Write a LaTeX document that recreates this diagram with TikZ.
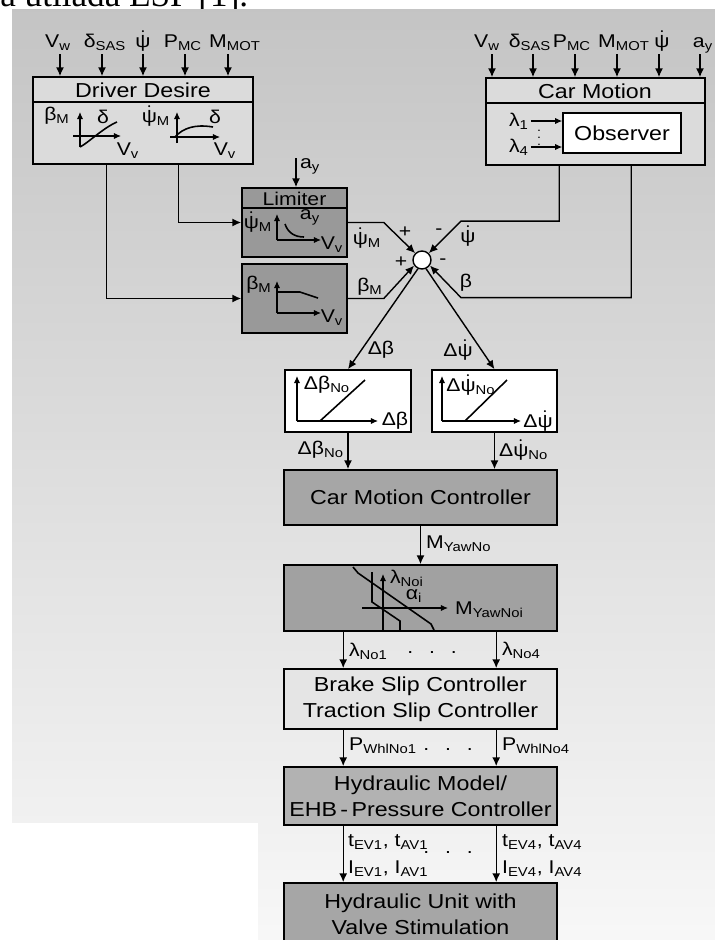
\documentclass[tikz,border=0pt]{standalone}
\usepackage{amsmath}
\usepackage{fontspec}
\setmainfont[FakeStretch=1.15]{Liberation Sans}
\newfontfamily\capfont{Liberation Serif}
\usetikzlibrary{arrows.meta,positioning,fit,calc}
\newcommand\sbs[1]{\textsubscript{#1}}
\newcommand\psd{\ensuremath{\dot{\text{ψ}}}}

\begin{document}
\begin{tikzpicture}[
  x=0.02cm, y=-0.02cm,
  font=\fontsize{10.5}{12}\selectfont,
  box/.style={draw, line width=0.9pt, inner sep=0pt, fill=#1},
  txt/.style={align=center, font=\fontsize{11.5}{15}\selectfont},
  lbl/.style={inner sep=1pt},
  inp/.style={inner sep=1pt, anchor=south, text depth=2.5pt},
  a/.style={-{Latex[length=5pt,width=4.5pt]}, line width=0.8pt},
  ax/.style={-{Latex[length=4pt,width=3.5pt]}, line width=0.6pt},
  crv/.style={line width=0.9pt}
]
\useasboundingbox (0,0) rectangle (715,940);
% page around the figure
\begin{scope}
  \clip (0,0) rectangle (715,9);
  \node[anchor=base west, inner sep=0pt, font=\capfont\fontsize{20}{22}\selectfont] (cap) at (0,6) {a utilada ESP [1].};
\end{scope}
\shade[top color=black!23, bottom color=black!3] (12,9) rectangle (715,940);
\fill[white] (0,823) rectangle (258,940);

% driver desire
\node[box=black!14, fit={(33,77) (253,164)}] (dd) {};
\draw[line width=0.9pt] ($(dd.north west)+(0,26)$) -- ($(dd.north east)+(0,26)$);
\node[txt] (dd-t) at (143,90) {Driver Desire};
\foreach \x/\lx/\t [count=\i] in {60/58/V\sbs{w}, 102/105/δ\sbs{SAS}, 143/143/\psd, 185/183/P\sbs{MC}, 228/235/M\sbs{MOT}} {
  \coordinate (dd-a\i) at (\x,54);
  \node[inp] (dd-in\i) at (\lx,54) {\t};
  \draw[a] (dd-a\i) -- (dd-a\i |- dd.north);
}
\draw[ax] (80,147) -- (80,112);
\draw[ax] (73,136) -- (121,136);
\draw[crv] (80,147) .. controls (88,143) and (103,128) .. (117,122);
\node (dd-b) at (57,116) {β\sbs{M}};
\node (dd-d1) at (103,117) {δ};
\node (dd-v1) at (128,151) {V\sbs{v}};
\draw[ax] (177,143) -- (177,112);
\draw[ax] (170,137) -- (220,137);
\draw[crv] (175,137) .. controls (183,128) and (195,124) .. (213,127);
\node (dd-p) at (156,116) {\psd\sbs{M}};
\node (dd-d2) at (215,117) {δ};
\node (dd-v2) at (225,151) {V\sbs{v}};

% car motion
\node[box=black!14, fit={(486,78) (705,165)}] (cm) {};
\draw[line width=0.9pt] ($(cm.north west)+(0,26)$) -- ($(cm.north east)+(0,26)$);
\node[txt] (cm-t) at (595,91) {Car Motion};
\foreach \x/\lx/\t [count=\i] in {492/487/V\sbs{w}, 533/530/δ\sbs{SAS}, 575/572/P\sbs{MC}, 617/624/M\sbs{MOT}, 659/662/\psd, 700/703/a\sbs{y}} {
  \coordinate (cm-a\i) at (\x,54);
  \node[inp] (cm-in\i) at (\lx,54) {\t};
  \draw[a] (cm-a\i) -- (cm-a\i |- cm.north);
}
\node[box=white, fit={(563,113) (681,153)}] (obs) {};
\node[txt] (obs-t) at (obs) {Observer};
\node[lbl] (cm-l1) at (519,121) {λ\sbs{1}};
\node[lbl] (cm-l4) at (519,147) {λ\sbs{4}};
\draw[ax] (cm-l1.east) -- (cm-l1.east -| obs.west);
\draw[ax] (cm-l4.east) -- (cm-l4.east -| obs.west);
\node[font=\fontsize{7}{8}\selectfont] (cm-vd) at (539,133) {$\vdots$};

% limiter and beta
\node[box=black!40, fit={(242,188) (347,257)}] (lim) {};
\draw[line width=0.9pt] ($(lim.north west)+(0,21)$) -- ($(lim.north east)+(0,21)$);
\node (lim-t) at (294.5,198.5) {Limiter};
\coordinate (lim-in) at (296,158);
\draw[a] (lim-in) -- (lim-in |- lim.north);
\node[lbl, anchor=west] (lim-ay) at (298,166) {a\sbs{y}};
\draw[ax] (277,240) -- (277,214);
\draw[ax] (277,240) -- (321,240);
\draw[crv] (285,224) .. controls (288,233) and (295,237) .. (304,237);
\node (lim-p) at (258,222) {\psd\sbs{M}};
\node (lim-a) at (310,217) {a\sbs{y}};
\node (lim-v) at (332,245) {V\sbs{v}};

\node[box=black!40, fit={(242,264) (347,333)}] (bm) {};
\draw[ax] (277,313) -- (277,281);
\draw[ax] (277,313) -- (321,313);
\draw[crv] (277,292) -- (300,292) -- (318,298);
\node (bm-b) at (259,285) {β\sbs{M}};
\node (bm-v) at (332,318) {V\sbs{v}};

\coordinate (dd-o1) at ($(dd.south west)+(74,0)$);
\coordinate (dd-o2) at ($(dd.south west)+(146,0)$);
\draw[a] (dd-o2) |- (lim.west);
\draw[a] (dd-o1) |- (bm.west);

% summing point
\node[circle, draw, fill=white, line width=0.8pt, minimum size=0.36cm, inner sep=0pt] (sum) at (422,260) {};
\coordinate (cm-o1) at ($(cm.south west)+(74,0)$);
\coordinate (cm-o2) at ($(cm.south west)+(146,0)$);
\draw[a] (lim.east) -- ++(36,0) -- (sum.135);
\draw[a] (bm.east) -- ++(36,0) -- (sum.-145);
\draw[a] (cm-o1) |- ($(sum.45)+(32,-32)$) -- (sum.45);
\draw[a] (cm-o2) |- ($(sum.-35)+(31,32)$) -- (sum.-35);
\node (s-pm) at (367,238) {\psd\sbs{M}};
\node (s-p1) at (405,232) {+};
\node (s-bm) at (370,287) {β\sbs{M}};
\node (s-p2) at (401,262) {+};
\node (s-ps) at (468,236) {\psd};
\node (s-m1) at (439,232) {-};
\node (s-b) at (466,283) {β};
\node (s-m2) at (443,262) {-};

% normalisation
\node[box=white, fit={(285,370) (411,432)}] (db) {};
\node[box=white, fit={(432,370) (557,432)}] (dp) {};
\draw[a] (sum.-115) -- (db.north);
\draw[a] (sum.-65) -- (dp.north);
\node (s-db) at (381,350) {Δβ};
\node (s-dp) at (458,350) {Δ\psd};
\draw[ax] (297,421) -- (297,376);
\draw[ax] (297,421) -- (378,421);
\draw[crv] (320,421) -- (365,380);
\node (db-y) at (327,385) {Δβ\sbs{No}};
\node (db-x) at (395,421) {Δβ};
\draw[ax] (442,421) -- (442,376);
\draw[ax] (442,421) -- (521,421);
\draw[crv] (465,421) -- (507,380);
\node (dp-y) at (471,385) {Δ\psd\sbs{No}};
\node (dp-x) at (538,421) {Δ\psd};

% controller chain
\node[box=black!35, fit={(284,470) (557,525)}] (cmc) {};
\node[txt] (cmc-t) at (cmc) {Car Motion Controller};
\draw[a] (db) -- (db |- cmc.north);
\draw[a] (dp) -- (dp |- cmc.north);
\node[lbl, anchor=east] (l-dbno) at (346,450) {Δβ\sbs{No}};
\node[lbl, anchor=west] (l-dpno) at (497,450) {Δ\psd\sbs{No}};

\node[box=black!37, fit={(284,565) (557,631)}] (yaw) {};
\draw[a] (cmc) -- (yaw);
\node[lbl, anchor=west] (l-my) at (424,544) {M\sbs{YawNo}};
\draw[crv] (353,567) -- (358,573) -- (431,624) -- (434,630);
\draw[crv] (372,572) -- (372,602) -- (400,621) -- (400,630);
\draw[ax] (383,631) -- (383,574);
\draw[ax] (362,608) -- (448,608);
\node (yaw-l) at (407,578) {λ\sbs{Noi}};
\node (yaw-a) at (414,596) {α\sbs{i}};
\node[anchor=west] (yaw-m) at (449,610) {M\sbs{YawNoi}};

\node[box=black!10, fit={(284,669) (557,729)}] (bsc) {};
\node[txt] (bsc-t) at (bsc) {Brake Slip Controller\\Traction Slip Controller};
\node[box=black!30, fit={(284,767) (557,825)}] (hm) {};
\node[txt] (hm-t) at (hm) {Hydraulic Model/\\EHB\,-\,Pressure Controller};
\node[box=black!35, fit={(284,883) (557,950)}] (hu) {};
\node[txt] (hu-t) at (420.5,914) {Hydraulic Unit with\\Valve Stimulation};
\foreach \u/\v in {yaw/bsc, bsc/hm, hm/hu}
  \foreach \d in {60,213}
    \draw[a] ($(\u.south west)+(\d,0)$) -- ($(\v.north west)+(\d,0)$);

\node[lbl, anchor=west] (l-n1) at (347,651) {λ\sbs{No1}};
\node[lbl, anchor=west] (l-n4) at (500,650) {λ\sbs{No4}};
\node[lbl] (l-nd) at (432,653) {.\hspace{9pt}.\hspace{9pt}.};
\node[lbl, anchor=west] (l-p1) at (347,746) {P\sbs{WhlNo1}};
\node[lbl, anchor=west] (l-p4) at (500,746) {P\sbs{WhlNo4}};
\node[lbl] (l-pd) at (448,750) {.\hspace{9pt}.\hspace{9pt}.};
\node[lbl, anchor=west] (l-t1) at (346,842) {t\sbs{EV1}, t\sbs{AV1}};
\node[lbl, anchor=west] (l-i1) at (346,869) {I\sbs{EV1}, I\sbs{AV1}};
\node[lbl, anchor=west] (l-t4) at (500,842) {t\sbs{EV4}, t\sbs{AV4}};
\node[lbl, anchor=west] (l-i4) at (500,869) {I\sbs{EV4}, I\sbs{AV4}};
\node[lbl] (l-td) at (448,853) {.\hspace{9pt}.\hspace{9pt}.};
\end{tikzpicture}
\end{document}
